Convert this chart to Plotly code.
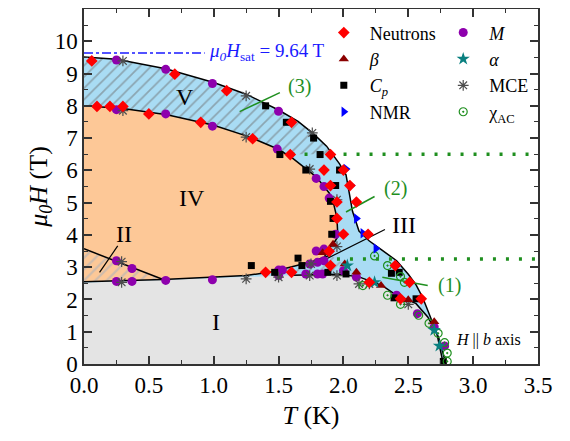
import plotly.graph_objects as go

# ---------------- data ----------------
# phase boundaries
outer_T = [0.0, 0.25, 0.63, 1.0, 1.25, 1.5, 1.65, 1.77, 1.87, 1.97, 2.02, 2.05, 2.07, 2.12, 2.20, 2.30, 2.41, 2.50, 2.56, 2.61, 2.64, 2.68, 2.74, 2.79]
outer_H = [9.51, 9.44, 9.15, 8.72, 8.36, 7.87, 7.52, 7.13, 6.75, 6.2, 5.86, 5.25, 4.73, 4.12, 3.81, 3.52, 3.2, 2.78, 2.45, 2.07, 1.77, 1.36, 0.75, 0.0]

iv_T = [0.0, 0.3, 0.64, 1.0, 1.28, 1.49, 1.60, 1.71, 1.79, 1.84, 1.89, 1.92, 1.95, 1.955, 1.95, 1.92, 1.87]
iv_H = [8.0, 7.92, 7.72, 7.4, 7.03, 6.67, 6.40, 6.06, 5.8, 5.55, 5.3, 5.04, 4.53, 4.12, 3.9, 3.71, 3.51]

low_T = [0.0, 0.61, 1.25, 1.45, 1.74, 1.90]
low_H = [2.55, 2.62, 2.74, 2.86, 3.15, 3.38]

gray_T = [0.0, 0.61, 1.25, 1.6, 1.97, 2.12, 2.30, 2.39, 2.56, 2.65, 2.72, 2.77]
gray_H = [2.52, 2.6, 2.7, 2.75, 2.78, 2.7, 2.43, 2.18, 1.87, 1.46, 0.95, 0.0]

ii_T = [0.0, 0.61, 0.0]
ii_H = [3.57, 2.62, 2.55]

iii_T = [1.45, 1.74, 1.90, 2.0, 1.97, 1.6]
iii_H = [2.80, 3.15, 3.38, 3.1, 2.78, 2.75]

v_T = [0.0, 0.25, 0.63, 1.0, 1.25, 1.5, 1.65, 1.77, 1.87, 1.92, 1.58, 1.49, 1.28, 1.0, 0.64, 0.3, 0.0]
v_H = [9.51, 9.44, 9.15, 8.72, 8.36, 7.87, 7.52, 7.13, 6.75, 6.5, 6.5, 6.67, 7.03, 7.4, 7.72, 7.92, 8.0]

# measurement points
neu_T = [0.06, 0.70, 1.10, 1.60, 0.10, 0.20, 0.30, 0.50, 0.90, 1.30, 1.59, 1.90, 1.85, 2.00, 1.90, 2.05, 1.95, 2.10, 1.95, 2.00, 2.19, 1.89, 1.90, 1.40, 1.60, 2.40, 2.51, 2.20, 2.44, 2.60]
neu_H = [9.39, 8.98, 8.47, 7.49, 7.98, 7.98, 7.98, 7.75, 7.49, 6.98, 6.49, 6.49, 6.01, 6.01, 5.53, 5.53, 5.02, 5.02, 4.51, 4.02, 4.02, 3.49, 3.05, 2.84, 2.84, 3.05, 2.53, 2.53, 2.02, 2.02]

beta_T = [1.92, 1.84, 2.01, 2.10, 2.29, 2.50, 2.70]
beta_H = [3.71, 3.45, 3.10, 2.84, 2.43, 1.99, 1.31]

cp_T = [1.40, 1.56, 1.77, 1.51, 1.82, 1.71, 1.97, 1.94, 1.90, 1.92, 1.91, 1.29, 1.65, 1.68, 1.47, 1.88, 2.02, 2.37, 2.43, 2.39, 2.56, 2.77]
cp_H = [8.00, 7.49, 7.00, 6.49, 6.49, 6.01, 6.01, 5.53, 5.04, 4.51, 4.02, 3.05, 3.28, 3.05, 2.84, 2.84, 2.79, 2.81, 2.84, 2.05, 2.02, 0.08]

nmr_T = [2.02, 2.06, 2.10, 2.15, 2.25, 2.41]
nmr_H = [6.04, 5.53, 4.51, 4.05, 3.58, 3.05]

m_T = [0.25, 0.63, 0.99, 1.50, 0.25, 0.63, 0.99, 1.49, 1.79, 1.85, 1.89, 1.94, 1.79, 1.85, 1.74, 1.80, 1.85, 1.50, 1.53, 1.71, 1.80, 1.84, 2.00, 2.10, 2.41, 2.57, 2.70, 2.78, 0.25, 0.37, 0.25, 0.37, 0.63, 0.99, 1.50]
m_H = [9.42, 9.13, 8.69, 7.83, 7.88, 7.75, 7.37, 6.66, 5.75, 5.50, 5.14, 4.02, 3.50, 3.56, 3.10, 3.15, 3.20, 2.91, 2.91, 2.79, 2.79, 2.79, 2.89, 2.69, 2.13, 1.56, 1.15, 0.56, 3.20, 2.96, 2.56, 2.56, 2.59, 2.61, 2.74]

alpha_T = [2.03, 2.24, 2.70, 2.74]
alpha_H = [3.05, 2.53, 1.05, 0.56]

mce_T = [0.30, 1.25, 1.76, 0.30, 1.25, 1.74, 1.95, 1.95, 1.25, 1.50, 1.74, 1.95, 2.12, 2.20, 2.50, 0.29, 0.29, 1.75]
mce_H = [9.39, 8.31, 7.16, 7.85, 7.03, 6.04, 5.09, 3.64, 2.64, 2.69, 2.74, 2.74, 2.48, 2.48, 1.85, 3.17, 2.53, 3.10]

chi_T = [2.24, 2.34, 2.44, 2.47, 2.15, 2.34, 2.44, 2.58, 2.66, 2.73, 2.78, 2.80, 2.80]
chi_H = [3.35, 3.05, 2.71, 2.53, 2.43, 2.13, 1.85, 1.51, 1.26, 0.95, 0.66, 0.34, 0.08]

# reference lines
H_sat = 9.64
sat_T = [0.0, 0.93]
dot_upper_T = [1.60, 3.5]
dot_upper_H = 6.5
dot_lower_T = [1.95, 3.5]
dot_lower_H = 3.25

# ticks
x_ticks = [0.0, 0.5, 1.0, 1.5, 2.0, 2.5, 3.0, 3.5]
x_minor = [0.25, 0.75, 1.25, 1.75, 2.25, 2.75, 3.25]
y_ticks = [0, 1, 2, 3, 4, 5, 6, 7, 8, 9, 10]
y_minor = [0.5, 1.5, 2.5, 3.5, 4.5, 5.5, 6.5, 7.5, 8.5, 9.5, 10.5]

# ---------------- styling ----------------
FONT = "Liberation Serif"
BLUE_FILL = "#a9dcf4"
ORANGE_FILL = "#fdc897"
GRAY_FILL = "#e4e4e4"
GREEN = "#1f8f1f"

fig = go.Figure()

def poly(xs, ys, color, pattern=None):
    kw = dict(x=xs, y=ys, mode="lines", fill="toself", line=dict(width=0, color=color),
              fillcolor=color, hoverinfo="skip", showlegend=False)
    if pattern:
        kw["fillpattern"] = pattern
    fig.add_trace(go.Scatter(**kw))

# regions
poly([0.0] + outer_T, [0.0] + outer_H, BLUE_FILL)
poly([0.0] + gray_T, [0.0] + gray_H, GRAY_FILL)
poly(iv_T + [1.85] + low_T[::-1][2:], iv_H + [3.25] + low_H[::-1][2:], ORANGE_FILL)
poly(v_T, v_H, BLUE_FILL, dict(shape="/", bgcolor=BLUE_FILL, fgcolor="#6e6e6e", size=8, solidity=0.22))
poly(ii_T, ii_H, ORANGE_FILL, dict(shape="/", bgcolor=ORANGE_FILL, fgcolor="#a3afc0", size=8, solidity=0.28))
poly(iii_T, iii_H, BLUE_FILL, dict(shape="/", bgcolor=BLUE_FILL, fgcolor="#8a8a8a", size=8, solidity=0.22))

def line(xs, ys, color="black", width=1.5, dash=None):
    fig.add_trace(go.Scatter(x=xs, y=ys, mode="lines", line=dict(color=color, width=width, dash=dash),
                             hoverinfo="skip", showlegend=False))

# boundary lines
line(outer_T, outer_H)
line(iv_T + [1.85], iv_H + [3.25])
line(low_T, low_H)
line(gray_T[3:], gray_H[3:])
line(ii_T[:2], ii_H[:2])

# pointer lines
line([0.12, 0.26], [2.84, 3.66], width=1.2)
line([1.84, 2.32], [3.20, 4.17], width=1.2)
line([2.30, 2.65], [2.69, 2.43], color=GREEN, width=1.5)
line([2.02, 2.24], [4.71, 5.19], color=GREEN, width=1.5)
line([1.20, 1.51], [7.82, 8.41], color=GREEN, width=1.5)

# dotted / dash-dot lines
line(dot_upper_T, [dot_upper_H] * 2, color=GREEN, width=3.5, dash="3px,10px")
line(dot_lower_T, [dot_lower_H] * 2, color=GREEN, width=3.5, dash="3px,10px")
line(sat_T, [H_sat] * 2, color="#1a1aff", width=1.5, dash="dashdot")

# markers (drawing order bottom -> top); legend ranks set the legend order
def pts(xs, ys, name, symbol, color, size, legend, rank, open_line=None):
    marker = dict(symbol=symbol, color=color, size=size, line=dict(width=0))
    if open_line:
        marker["line"] = dict(width=open_line, color=color)
    fig.add_trace(go.Scatter(x=xs, y=ys, mode="markers", name=name, marker=marker,
                             legend=legend, legendrank=rank))

pts(m_T, m_H, "<i>M</i>", "circle", "#8e00ad", 9, "legend2", 1)
pts(mce_T, mce_H, "MCE", "asterisk-open", "#4d4d4d", 9, "legend2", 3, open_line=1.2)
pts(cp_T, cp_H, "<i>C</i><sub><i>p</i></sub>", "square", "black", 7, "legend", 3)
pts(chi_T, chi_H, "χ<sub>AC</sub>", "circle-open-dot", GREEN, 8, "legend2", 4, open_line=1.2)
pts(beta_T, beta_H, "<i>β</i>", "triangle-up", "#8b0000", 9, "legend", 2)
pts(alpha_T, alpha_H, "<i>α</i>", "star", "#0a8080", 10, "legend2", 2)
pts(nmr_T, nmr_H, "NMR", "triangle-right", "#0000ff", 9, "legend", 4)
pts(neu_T, neu_H, "Neutrons", "diamond", "#ff0000", 9, "legend", 1)

# text labels
def label(x, y, text, size=24, color="black", xanchor="center"):
    fig.add_annotation(x=x, y=y, text=text, showarrow=False, xanchor=xanchor, yanchor="middle",
                       font=dict(family=FONT, size=size, color=color))

label(0.78, 8.26, "V")
label(0.83, 5.14, "IV")
label(0.31, 4.02, "II")
label(1.02, 1.29, "I")
label(2.47, 4.32, "III")
label(1.66, 8.6, "(3)", 20, GREEN)
label(2.40, 5.45, "(2)", 20, GREEN)
label(2.82, 2.43, "(1)", 20, GREEN)
label(0.95, 9.66, "<i>μ<sub>0</sub>H</i><sub>sat</sub> = 9.64 T", 19, "#1a1aff", "left")
label(3.12, 0.75, "<i>H</i> || <i>b</i> axis", 16)

axis_common = dict(showline=True, linewidth=1.5, linecolor="#333333", mirror="allticks",
                   ticks="inside", ticklen=8, tickwidth=1.5, tickcolor="#333333",
                   showgrid=False, zeroline=False, automargin=False,
                   tickfont=dict(family=FONT, size=23, color="black"))

# the page adds an 8px body margin, so the figure is sized to fit the window
fig.update_layout(
    width=562, height=433,
    margin=dict(l=76, r=32, t=1, b=77),
    paper_bgcolor="white", plot_bgcolor="white",
    font=dict(family=FONT, color="black"),
    xaxis=dict(range=[0, 3.5], tickvals=x_ticks, ticktext=[f"{v:.1f}" for v in x_ticks],
               minor=dict(tickvals=x_minor, ticks="inside", ticklen=4, tickwidth=1.2, tickcolor="#333333"),
               title=dict(text="<i>T</i> (K)", font=dict(family=FONT, size=26), standoff=8),
               **axis_common),
    yaxis=dict(range=[0, 11], tickvals=y_ticks, ticktext=[str(v) for v in y_ticks],
               minor=dict(tickvals=y_minor, ticks="inside", ticklen=4, tickwidth=1.2, tickcolor="#333333"),
               title=dict(text="<i>μ<sub>0</sub>H</i> (T)", font=dict(family=FONT, size=26), standoff=0),
               **axis_common),
    legend=dict(x=0.515, y=0.985, xanchor="left", yanchor="top", bgcolor="rgba(0,0,0,0)",
                font=dict(family=FONT, size=18), tracegroupgap=0, itemwidth=42),
    legend2=dict(x=0.778, y=0.985, xanchor="left", yanchor="top", bgcolor="rgba(0,0,0,0)",
                 font=dict(family=FONT, size=18), tracegroupgap=0, itemwidth=42),
)

fig.write_html("out.html")
